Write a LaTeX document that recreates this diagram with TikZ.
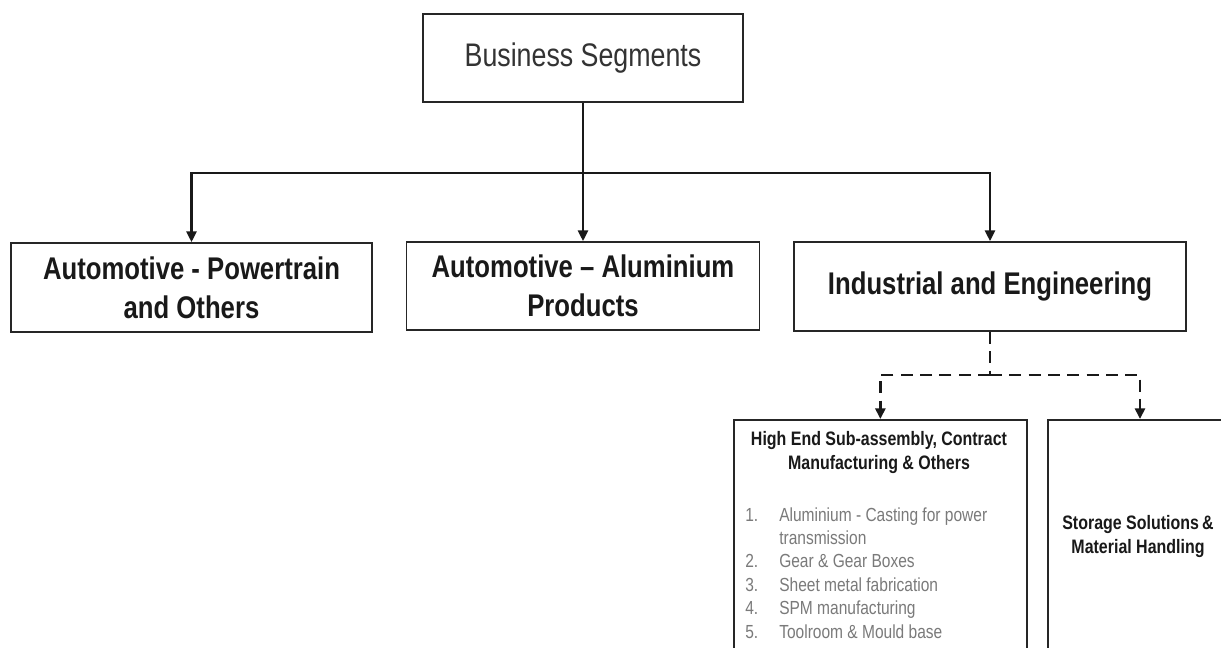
\documentclass[tikz,border=0pt]{standalone}
\usepackage{fontspec}
\newfontfamily\condfont[FakeStretch=0.82,Ligatures=TeX]{Liberation Sans}
\usetikzlibrary{arrows.meta}
\definecolor{listgray}{HTML}{7A7A7A}
\tikzset{
  box/.style={draw=black!85, line width=1.3pt, rectangle, inner sep=0pt},
  conn/.style={draw=black!90, line width=1.7pt, -{Triangle[length=8pt,width=7.5pt]}},
  connline/.style={draw=black!90, line width=1.7pt},
  dconn/.style={draw=black!90, line width=2.2pt, dash pattern=on 9pt off 5.5pt, -{Triangle[length=8pt,width=7.5pt]}},
  dline/.style={draw=black!90, line width=2.2pt, dash pattern=on 9pt off 5.5pt},
  lvltwo/.style={font=\condfont\bfseries\fontsize{23.5pt}{29pt}\selectfont, align=center, text=black!90},
  subtitle/.style={font=\condfont\bfseries\fontsize{14.6pt}{18pt}\selectfont, align=center, text=black!90},
  listtext/.style={font=\condfont\fontsize{14.2pt}{17.6pt}\selectfont, text=listgray, anchor=base west, inner sep=0pt}
}
\begin{document}
\begin{tikzpicture}[x=0.75pt,y=-0.75pt]
\useasboundingbox (0,0) rectangle (1221,648);
\fill[white] (0,0) rectangle (1221,648);
\begin{scope}
\clip (0,0) rectangle (1221,648);
% top box
\node[box, minimum width=320*0.75pt, minimum height=88*0.75pt] (top) at (583,58) {};
\node[font=\condfont\fontsize{24.5pt}{29pt}\selectfont, text=black!80] (toptext) at (583,58) {Business Segments};
% level two boxes
\node[box, minimum width=361*0.75pt, minimum height=89*0.75pt] (auto1) at (191.5,287.5) {};
\node[lvltwo] (auto1t) at (191.5,287.5) {Automotive - Powertrain\\and Others};
\node[box, minimum width=353*0.75pt, minimum height=88*0.75pt] (auto2) at (583,286) {};
\node[lvltwo] (auto2t) at (583,286) {Automotive \textendash{} Aluminium\\Products};
\node[box, minimum width=392*0.75pt, minimum height=89*0.75pt] (ind) at (990,286.5) {};
\node[lvltwo] (indt) at (990,286.5) {Industrial and Engineering};
% bottom boxes (clipped)
\node[box, minimum width=293*0.75pt, minimum height=260*0.75pt, anchor=north west] (sub) at (733,419) {};
\node[box, minimum width=200*0.75pt, minimum height=260*0.75pt, anchor=north west] (store) at (1047,419) {};
\node[subtitle, anchor=north] (subt) at (879,427) {High End Sub-assembly, Contract\\Manufacturing \& Others};
\node[subtitle] (storet) at (1138,537) {Storage Solutions\,\&\\Material Handling};
% list
\node[listtext] (n1) at (745,521) {1.};
\node[listtext] (l1) at (779,521) {Aluminium - Casting for power};
\node[listtext] (l1b) at (779,544) {transmission};
\node[listtext] (n2) at (745,567) {2.};
\node[listtext] (l2) at (779,567) {Gear \& Gear Boxes};
\node[listtext] (n3) at (745,591) {3.};
\node[listtext] (l3) at (779,591) {Sheet metal fabrication};
\node[listtext] (n4) at (745,614) {4.};
\node[listtext] (l4) at (779,614) {SPM manufacturing};
\node[listtext] (n5) at (745,638) {5.};
\node[listtext] (l5) at (779,638) {Toolroom \& Mould base};
% connectors
\coordinate (j) at (583,173);
\draw[connline] (top.south) -- (j);
\draw[conn] (j) -- (auto2.north);
\draw[conn] (j) -| (auto1.north);
\draw[conn] (j) -| (ind.north);
\coordinate (dj) at (990,375);
\coordinate (storein) at (1140,419);
\draw[dline] (ind.south) -- (dj);
\draw[dconn] (dj) -| (sub.north);
\draw[dconn] (dj) -| (storein);
\end{scope}
\end{tikzpicture}
\end{document}
